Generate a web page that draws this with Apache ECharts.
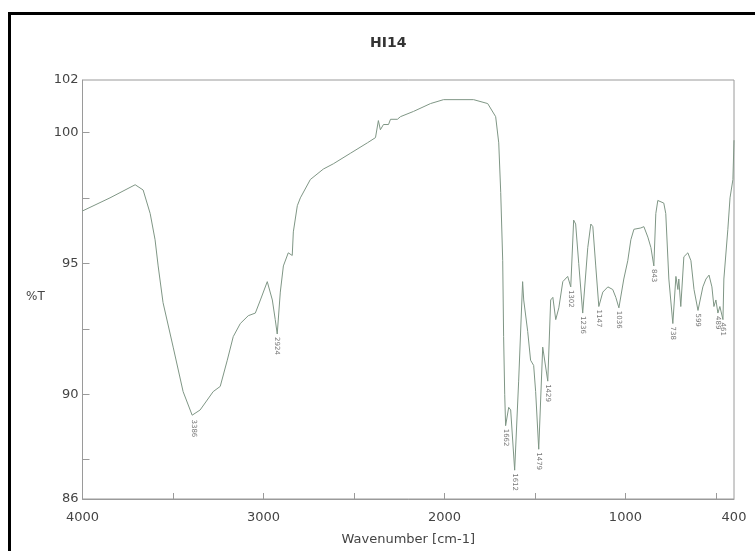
<!DOCTYPE html>
<html>
<head>
<meta charset="utf-8">
<title>HI14</title>
<script src="https://cdn.jsdelivr.net/npm/echarts@6/dist/echarts.min.js"></script>
<style>
  html, body { margin: 0; padding: 0; background: #fff; }
  #chart { width: 755px; height: 551px; }
</style>
</head>
<body>
<div id="chart"></div>
<script>
// spectrum: wavenumber (cm-1) and %T
const wavenumber = [4000, 3848, 3709, 3665, 3626, 3599, 3582, 3555, 3499, 3444, 3394, 3386, 3350, 3278, 3239,
  3200, 3167, 3128, 3084, 3045, 3017, 2979, 2951, 2935, 2924, 2907, 2890, 2879, 2863, 2841,
  2835, 2813, 2796, 2741, 2669, 2614, 2520, 2426, 2381, 2365, 2354, 2337, 2309, 2298, 2260,
  2243, 2171, 2077, 2005, 1839, 1761, 1717, 1700, 1689, 1678, 1673, 1667, 1662, 1645, 1634,
  1612, 1590, 1568, 1562, 1540, 1524, 1507, 1496, 1479, 1457, 1446, 1429, 1413, 1401, 1385,
  1368, 1346, 1319, 1302, 1286, 1275, 1258, 1236, 1208, 1191, 1180, 1164, 1147, 1125, 1097,
  1070, 1053, 1036, 1009, 987, 970, 953, 915, 898, 876, 859, 843, 832, 821, 788,
  777, 760, 738, 721, 710, 705, 694, 677, 655, 638, 621, 599, 572, 555, 538,
  522, 511, 500, 489, 478, 461, 456, 434, 422, 406, 400];
const transmittance = [97.0, 97.5, 98.0, 97.8, 96.9, 95.9, 94.9, 93.5, 91.8, 90.1, 89.2, 89.15, 89.4, 90.1, 90.3,
  91.3, 92.2, 92.7, 93.0, 93.1, 93.6, 94.3, 93.6, 92.85, 92.3, 93.9, 94.9, 94.9, 95.4, 95.3,
  96.2, 97.2, 97.5, 98.2, 98.6, 98.8, 99.2, 99.6, 99.8, 100.45, 100.1, 100.3, 100.3, 100.5, 100.5,
  100.6, 100.8, 101.1, 101.25, 101.25, 101.1, 100.6, 99.6, 97.7, 95.1, 92.2, 90.0, 88.8, 89.5, 89.4,
  87.1, 90.5, 94.3, 93.6, 92.4, 91.3, 91.1, 90.1, 87.9, 91.8, 91.8, 90.5, 93.6, 93.7, 92.85,
  93.3, 94.3, 94.5, 94.1, 96.65, 96.5, 95.0, 93.1, 95.6, 96.5, 96.4, 94.9, 93.35, 93.9, 94.1,
  94.0, 93.7, 93.3, 94.4, 95.1, 95.9, 96.3, 96.35, 96.4, 96.0, 95.6, 94.9, 96.9, 97.4, 97.3,
  96.9, 94.4, 92.7, 94.5, 94.0, 94.4, 93.35, 95.25, 95.4, 95.1, 94.0, 93.2, 94.1, 94.4, 94.55,
  94.1, 93.35, 93.6, 93.1, 93.35, 92.85, 94.4, 96.3, 97.5, 98.2, 99.7];

// picked peaks
const peakWn = [3386, 2924, 1662, 1612, 1479, 1429, 1302, 1236, 1147, 1036, 843, 738, 599, 489, 461];
const peakT = [89.15, 92.3, 88.8, 87.1, 87.9, 90.5, 94.1, 93.1, 93.35, 93.3, 94.9, 92.7, 93.2, 93.1, 92.85];

// axis ticks and labels
const xLabels = [4000, 3000, 2000, 1000, 400];
const xTicks = [3500, 3000, 2500, 2000, 1500, 1000, 500];
const yLabels = [86, 90, 95, 100, 102];
const yTicks = [87.5, 90, 92.5, 95, 97.5, 100];

const spectrum = wavenumber.map((w, i) => [w, transmittance[i]]);
const peaks = peakWn.map((w, i) => [w, peakT[i]]);

const chart = echarts.init(document.getElementById('chart'));
chart.setOption({
  animation: false,
  backgroundColor: '#fff',
  title: {
    text: 'HI14',
    left: 365,
    top: 31,
    textStyle: { fontFamily: 'DejaVu Sans', fontSize: 14, fontWeight: 'bold', color: '#333' }
  },
  graphic: [
    // black frame on the top and left of the picture
    { type: 'rect', shape: { x: 8, y: 12, width: 747, height: 3 }, style: { fill: '#000' } },
    { type: 'rect', shape: { x: 8, y: 12, width: 3, height: 539 }, style: { fill: '#000' } },
    {
      type: 'text', left: 26, top: 291,
      style: { text: '%T', fontFamily: 'DejaVu Sans', fontSize: 12, fill: '#444' }
    }
  ],
  grid: {
    left: 82.5,
    right: 21,
    top: 80,
    bottom: 52,
    outerBoundsMode: 'none',
    show: true,
    borderColor: '#9a9a9a',
    borderWidth: 1
  },
  xAxis: {
    type: 'value',
    inverse: true,
    min: 400,
    max: 4000,
    name: 'Wavenumber [cm-1]',
    nameLocation: 'middle',
    nameGap: 34,
    nameTextStyle: { fontFamily: 'DejaVu Sans', fontSize: 13, color: '#444' },
    axisLine: { lineStyle: { color: '#9a9a9a' } },
    axisTick: { inside: true, length: 6, customValues: xTicks, lineStyle: { color: '#9a9a9a' } },
    axisLabel: {
      customValues: xLabels,
      margin: 12,
      fontFamily: 'DejaVu Sans',
      fontSize: 13,
      color: '#444',
      formatter: v => String(v)
    },
    splitLine: { show: false }
  },
  yAxis: {
    type: 'value',
    min: 86,
    max: 102,
    axisLine: { show: true, lineStyle: { color: '#9a9a9a' } },
    axisTick: { show: true, inside: true, length: 7, customValues: yTicks, lineStyle: { color: '#9a9a9a' } },
    axisLabel: {
      customValues: yLabels,
      margin: 4,
      fontFamily: 'DejaVu Sans',
      fontSize: 13,
      color: '#444'
    },
    splitLine: { show: false }
  },
  series: [
    {
      type: 'line',
      data: spectrum,
      showSymbol: false,
      lineStyle: { color: '#7f9685', width: 1 }
    },
    {
      // peak labels, written vertically under each minimum
      type: 'scatter',
      data: peaks,
      symbolSize: 0,
      label: {
        show: true,
        position: 'bottom',
        distance: 3,
        rotate: -90,
        align: 'left',
        verticalAlign: 'middle',
        fontFamily: 'DejaVu Sans',
        fontSize: 7,
        color: '#555',
        formatter: p => String(p.value[0])
      }
    }
  ]
});
</script>
</body>
</html>
